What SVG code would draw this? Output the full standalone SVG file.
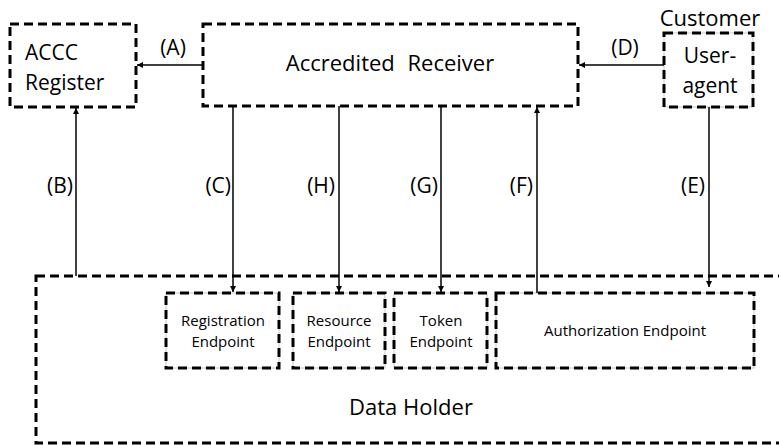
<svg xmlns="http://www.w3.org/2000/svg" width="779" height="445" viewBox="0 0 779 445">
<defs>
<style>
.box{fill:none;stroke:#000;stroke-width:3;stroke-dasharray:9 5}
.thin{fill:none;stroke:#c8c8c8;stroke-width:1}
.ln{fill:none;stroke:#000;stroke-width:1.5}
text{font-family:"Open Sans","Liberation Sans",sans-serif;fill:#000}
.big{font-size:22px}
.two{font-size:21px}
.lbl{font-size:21px}
.sm{font-size:15px}
</style>
<marker id="ah" viewBox="0 0 10 10" refX="10" refY="5" markerWidth="6" markerHeight="6" orient="auto" markerUnits="userSpaceOnUse">
<path d="M0,0 L10,5 L0,10 z" fill="#000"/>
</marker>
</defs>
<rect width="779" height="445" fill="#fff"/>

<g id="data-holder">
<rect class="box" x="36" y="276" width="760" height="167"/>
<text class="big" x="411" y="415" text-anchor="middle">Data Holder</text>
</g>

<g id="accc-register">
<rect class="box" x="10" y="24" width="126" height="83"/>
<text class="two" x="25" y="60">ACCC</text>
<text class="two" x="25" y="90">Register</text>
</g>

<g id="accredited-receiver">
<rect class="box" x="203" y="24" width="375" height="82"/>
<text class="big" x="390" y="71" text-anchor="middle" word-spacing="7">Accredited Receiver</text>
</g>

<g id="user-agent">
<text class="big" x="710" y="26" text-anchor="middle">Customer</text>
<rect class="thin" x="664" y="33" width="89" height="74"/>
<rect class="box" x="664" y="33" width="89" height="74"/>
<text class="two" x="710" y="63" text-anchor="middle">User-</text>
<text class="two" x="710" y="93" text-anchor="middle">agent</text>
</g>

<g id="registration-endpoint">
<rect class="thin" x="166" y="293" width="113" height="75"/>
<rect class="box" x="166" y="293" width="113" height="75"/>
<text class="sm" x="223" y="326" text-anchor="middle">Registration</text>
<text class="sm" x="223" y="347" text-anchor="middle">Endpoint</text>
</g>

<g id="resource-endpoint">
<rect class="thin" x="293" y="293" width="92" height="75"/>
<rect class="box" x="293" y="293" width="92" height="75"/>
<text class="sm" x="339" y="326" text-anchor="middle">Resource</text>
<text class="sm" x="339" y="347" text-anchor="middle">Endpoint</text>
</g>

<g id="token-endpoint">
<rect class="thin" x="394" y="293" width="93" height="75"/>
<rect class="box" x="394" y="293" width="93" height="75"/>
<text class="sm" x="441" y="326" text-anchor="middle">Token</text>
<text class="sm" x="441" y="347" text-anchor="middle">Endpoint</text>
</g>

<g id="authorization-endpoint">
<rect class="thin" x="496" y="293" width="258" height="75"/>
<rect class="box" x="496" y="293" width="258" height="75"/>
<text class="sm" x="625" y="336" text-anchor="middle">Authorization Endpoint</text>
</g>

<g id="connectors">
<line class="ln" x1="203" y1="65" x2="137" y2="65" marker-end="url(#ah)"/>
<line class="ln" x1="664" y1="65" x2="579" y2="65" marker-end="url(#ah)"/>
<line class="ln" x1="76" y1="276" x2="76" y2="108" marker-end="url(#ah)"/>
<line class="ln" x1="233" y1="106" x2="233" y2="292" marker-end="url(#ah)"/>
<line class="ln" x1="339" y1="106" x2="339" y2="292" marker-end="url(#ah)"/>
<line class="ln" x1="441" y1="106" x2="441" y2="292" marker-end="url(#ah)"/>
<line class="ln" x1="537" y1="293" x2="537" y2="107" marker-end="url(#ah)"/>
<line class="ln" x1="709" y1="107" x2="709" y2="287" marker-end="url(#ah)"/>
<text class="lbl" x="173" y="55" text-anchor="middle">(A)</text>
<text class="lbl" x="625" y="55" text-anchor="middle">(D)</text>
<text class="lbl" x="73" y="193" text-anchor="end">(B)</text>
<text class="lbl" x="231" y="193" text-anchor="end">(C)</text>
<text class="lbl" x="335" y="193" text-anchor="end">(H)</text>
<text class="lbl" x="438" y="193" text-anchor="end">(G)</text>
<text class="lbl" x="533" y="193" text-anchor="end">(F)</text>
<text class="lbl" x="705" y="193" text-anchor="end">(E)</text>
</g>
</svg>
